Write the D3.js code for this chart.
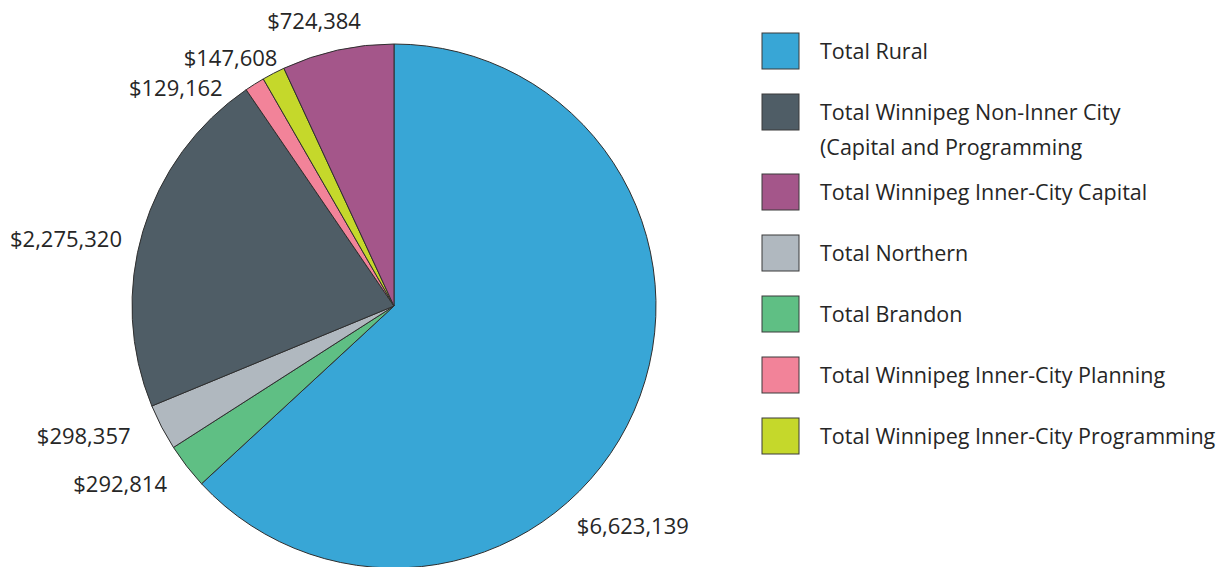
<!DOCTYPE html>
<html>
<head>
<meta charset="utf-8">
<script src="https://cdn.jsdelivr.net/npm/d3@7"></script>
<style>
  body { margin: 0; background: #fff; }
  text { font-family: "Open Sans", "Noto Sans", sans-serif; fill: #262626; }
</style>
</head>
<body>
<div id="chart"></div>
<script>
// slices in clockwise order from 12 o'clock
var categories = ["Total Rural", "Total Brandon", "Total Northern",
    "Total Winnipeg Non-Inner City (Capital and Programming",
    "Total Winnipeg Inner-City Planning", "Total Winnipeg Inner-City Programming",
    "Total Winnipeg Inner-City Capital"];
var values = [6623139, 292814, 298357, 2275320, 129162, 147608, 724384];
var colors = ["#38a6d6", "#5fbf84", "#b0b8bf", "#4f5d66", "#f28399", "#c5d82b", "#a4568a"];

// legend order and wrapped lines
var legendOrder = [0, 3, 6, 2, 1, 4, 5];
var legendLines = {
    3: ["Total Winnipeg Non-Inner City", "(Capital and Programming"]
};

// nudges for value labels (px) relative to outer centroid
var labelNudge = [[-25, 105], [-46, 2], [-55, -3], [-52, 16], [-65, 26], [-31, 8], [-18, -3]];

var width = 1231, height = 567;
var cx = 394, cy = 306, radius = 262;

var svg = d3.select("#chart")
    .append("svg")
    .attr("width", width)
    .attr("height", height);

var data = categories.map(function(c, i){ return { name: c, value: values[i], idx: i }; });

var pie = d3.pie()
    .sort(null)
    .value(function(d){ return d.value; });

var arc = d3.arc().innerRadius(0).outerRadius(radius);
var labelArc = d3.arc().innerRadius(288).outerRadius(288);

var g = svg.append("g")
    .attr("transform", "translate(" + cx + "," + cy + ")");

var arcs = pie(data);

g.selectAll("path")
    .data(arcs)
    .enter().append("path")
    .attr("d", arc)
    .attr("fill", function(d){ return colors[d.data.idx]; })
    .attr("stroke", "#2f2f2f")
    .attr("stroke-width", 1);

var fmt = d3.format("$,");

g.selectAll("text.val")
    .data(arcs)
    .enter().append("text")
    .attr("class", "val")
    .attr("x", function(d){ return labelArc.centroid(d)[0] + labelNudge[d.data.idx][0]; })
    .attr("y", function(d){ return labelArc.centroid(d)[1] + labelNudge[d.data.idx][1]; })
    .attr("dy", "0.35em")
    .attr("text-anchor", "middle")
    .style("font-size", "22px")
    .text(function(d){ return fmt(d.data.value); });

// legend
var legend = svg.append("g").attr("transform", "translate(762,33)");
var yy = 0;
legendOrder.forEach(function(i){
    var lines = legendLines[i] || [categories[i]];
    var row = legend.append("g").attr("transform", "translate(0," + yy + ")");
    row.append("rect")
        .attr("width", 37)
        .attr("height", 36)
        .attr("fill", colors[i])
        .attr("stroke", "#3a3a3a")
        .attr("stroke-width", 1);
    lines.forEach(function(l, k){
        row.append("text")
            .attr("x", 58)
            .attr("y", 18 + k * 35)
            .attr("dy", "0.35em")
            .style("font-size", "21.5px")
            .text(l);
    });
    yy += 61 + (lines.length - 1) * 19;
});
</script>
</body>
</html>
